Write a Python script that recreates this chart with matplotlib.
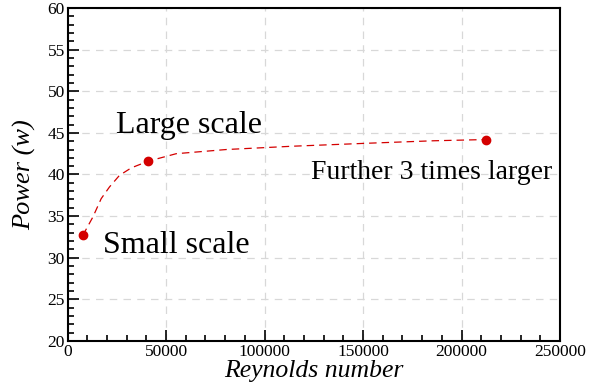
import numpy as np
import matplotlib
matplotlib.use("Agg")
from matplotlib import pyplot as plt
from matplotlib.ticker import MultipleLocator

# measured cases
reynolds = [7800, 41000, 212500]
power = [32.7, 41.6, 44.2]

# fitted trend line through the cases
curve_re = [7800, 12900, 17100, 21300, 26400, 32400, 41000, 55200, 80600,
            114500, 151800, 185600, 212500]
curve_power = [32.7, 34.9, 37.1, 38.5, 39.9, 40.8, 41.6, 42.5, 43.0,
               43.4, 43.75, 44.05, 44.2]

labels = ["Small scale", "Large scale", "Further 3 times larger"]
label_pos = [(17800, 30.6), (24800, 45.0), (123700, 39.4)]
label_size = [23, 23, 20]

plt.rcParams['font.family'] = ['Liberation Serif', 'DejaVu Serif']

fig = plt.figure(figsize=(5.91, 3.92), dpi=100)
ax = fig.add_axes([67.5/591, 1-341/392, (560-67.5)/591, (341-8)/392])

red = '#d40000'
ax.plot(curve_re, curve_power, color=red, lw=0.9, ls=(0, (6, 4)))
ax.plot(reynolds, power, 'o', color=red, ms=6, zorder=5)

for txt, (x, y), fs in zip(labels, label_pos, label_size):
    ax.text(x, y, txt, fontsize=fs, ha='left', va='baseline')

ax.set_xlim(0, 250000)
ax.set_ylim(20, 60)
ax.xaxis.set_major_locator(MultipleLocator(50000))
ax.xaxis.set_minor_locator(MultipleLocator(10000))
ax.yaxis.set_major_locator(MultipleLocator(5))
ax.yaxis.set_minor_locator(MultipleLocator(1))
ax.tick_params(which='both', direction='in', top=False, right=False,
               labelsize=12.5, width=1.2, pad=2)
ax.tick_params(which='major', length=8)
ax.tick_params(which='minor', length=4)
ax.grid(True, which='major', color='#d8d8d8', ls=(0, (6, 5)), lw=0.9)
for s in ax.spines.values():
    s.set_linewidth(1.5)

ax.set_xlabel('Reynolds number', fontsize=18.5, style='italic', labelpad=0)
ax.set_ylabel('Power (w)', fontsize=19, style='italic', labelpad=8)

fig.savefig('out.png', dpi=100)
